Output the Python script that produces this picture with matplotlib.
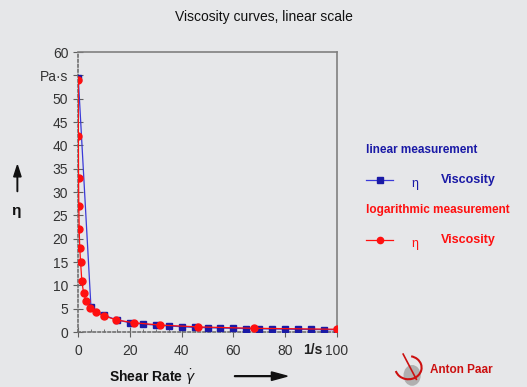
import matplotlib
matplotlib.use("Agg")
import matplotlib.pyplot as plt
from matplotlib.lines import Line2D
from matplotlib.patches import FancyArrow, Ellipse, Arc

plt.rcParams['font.family'] = ['Liberation Sans', 'DejaVu Sans']

# linear measurement
lin_rate = [0.1, 5, 10, 15, 20, 25, 30, 35, 40, 45, 50, 55, 60, 65, 70, 75, 80, 85, 90, 95, 100]
lin_visc = [54.5, 5.4, 3.6, 2.6, 2.0, 1.7, 1.5, 1.3, 1.15, 1.0, 0.93, 0.86, 0.8, 0.75, 0.7, 0.66, 0.62, 0.58, 0.55, 0.52, 0.5]

# logarithmic measurement
log_rate = [0.1, 0.147, 0.215, 0.316, 0.464, 0.681, 1.0, 1.47, 2.15, 3.16, 4.64, 6.81,
            10.0, 14.7, 21.5, 31.6, 46.4, 68.1, 100.0]
log_visc = [54.0, 42.0, 33.0, 27.0, 22.0, 18.0, 15.0, 11.0, 8.4, 6.6, 5.2, 4.2,
            3.5, 2.6, 2.0, 1.5, 1.1, 0.8, 0.6]

y_ticks = [0, 5, 10, 15, 20, 25, 30, 35, 40, 45, 50, 55, 60]
y_labels = ['0', '5', '10', '15', '20', '25', '30', '35', '40', '45', '50', 'Pa·s', '60']
x_ticks = [0, 20, 40, 60, 80, 100]

bg = '#e6e7e9'
blue = '#1a1aa6'
red = '#ff1010'

fig = plt.figure(figsize=(5.27, 3.87), dpi=100, facecolor=bg)
ax = fig.add_axes([0.148, 0.142, 0.4915, 0.7235], facecolor=bg)

ax.plot(lin_rate, lin_visc, color='#3a3ad8', lw=0.9, marker='s', ms=5,
        mfc=blue, mec=blue, zorder=3)
ax.plot(log_rate, log_visc, color=red, lw=0.9, marker='o', ms=5,
        mfc=red, mec=red, zorder=4)

ax.set_xlim(0, 100)
ax.set_ylim(0, 60)
ax.set_yticks(y_ticks)
ax.set_yticklabels(y_labels)
ax.set_xticks(x_ticks)
ax.set_xticks(range(0, 101, 5), minor=True)
ax.tick_params(axis='both', direction='inout', length=7, width=0.8, color='#606060',
               labelsize=10, labelcolor='#333333')
ax.tick_params(axis='x', which='minor', direction='in', length=2.5, color='#606060')
ax.tick_params(axis='x', pad=5)

for s in ['top', 'right']:
    ax.spines[s].set_color('#808080')
    ax.spines[s].set_linewidth(1.2)
for s in ['left', 'bottom']:
    ax.spines[s].set_color('#707070')
    ax.spines[s].set_linestyle((0, (1.5, 1.5)))
    ax.spines[s].set_linewidth(1.2)

# unit next to 100
fig.text(0.594, 0.095, '1/s', fontsize=10, fontweight='bold', color='#222222',
         ha='center', va='center')

fig.text(0.5, 0.955, 'Viscosity curves, linear scale', fontsize=10, color='#111111',
         ha='center', va='center')

# y label and arrow
fig.text(0.031, 0.455, 'η', fontsize=11, fontweight='bold', color='#111111',
         ha='center', va='center')
fig.patches.append(FancyArrow(0.033, 0.505, 0, 0.038, width=0.001,
                   head_width=0.014, head_length=0.03, color='#111111',
                   transform=fig.transFigure, figure=fig))

# x label and arrow
fig.text(0.29, 0.026, 'Shear Rate $\\dot{\\gamma}$', fontsize=10, fontweight='bold',
         color='#111111', ha='center', va='center')
fig.patches.append(FancyArrow(0.445, 0.028, 0.07, 0, width=0.002,
                   head_width=0.022, head_length=0.03, color='#111111',
                   transform=fig.transFigure, figure=fig))

# legend
fig.text(0.694, 0.612, 'linear measurement', fontsize=8.5, fontweight='bold',
         color=blue, va='center')
fig.add_artist(Line2D([0.695, 0.745], [0.535, 0.535], color='#3a3ad8', lw=0.9,
                      transform=fig.transFigure))
fig.add_artist(Line2D([0.722], [0.535], marker='s', ms=5, color=blue,
                      transform=fig.transFigure))
fig.text(0.787, 0.525, 'η', fontsize=9, color=blue, ha='center', va='center')
fig.text(0.836, 0.535, 'Viscosity', fontsize=9, fontweight='bold', color=blue, va='center')

fig.text(0.694, 0.457, 'logarithmic measurement', fontsize=8.5, fontweight='bold',
         color=red, va='center')
fig.add_artist(Line2D([0.695, 0.745], [0.38, 0.38], color=red, lw=0.9,
                      transform=fig.transFigure))
fig.add_artist(Line2D([0.722], [0.38], marker='o', ms=4.5, color=red,
                      transform=fig.transFigure))
fig.text(0.787, 0.37, 'η', fontsize=9, color=red, ha='center', va='center')
fig.text(0.836, 0.38, 'Viscosity', fontsize=9, fontweight='bold', color=red, va='center')

# logo
fig.patches.append(Ellipse((0.782, 0.03), 0.03, 0.05, color='#b0b0b0',
                   transform=fig.transFigure, figure=fig))
fig.patches.append(Arc((0.775, 0.05), 0.05, 0.06, theta1=200, theta2=80, color='#cc1010',
                   lw=1.5, transform=fig.transFigure, figure=fig))
fig.add_artist(Line2D([0.765, 0.79], [0.085, 0.02], color='#cc1010', lw=1.2,
                      transform=fig.transFigure))
fig.text(0.815, 0.045, 'Anton Paar', fontsize=8.5, fontweight='bold', color='#cc1010',
         va='center')

fig.savefig('out.png', dpi=100, facecolor=bg)
